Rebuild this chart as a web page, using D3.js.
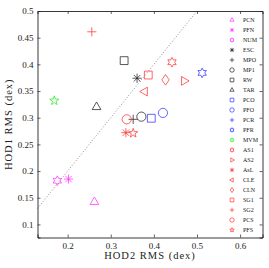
<!DOCTYPE html>
<html><head><meta charset="utf-8">
<script src="https://cdn.jsdelivr.net/npm/d3@7"></script>
<style>body{margin:0;background:#fff}svg{display:block}text{font-family:"Liberation Serif","Times New Roman",serif}</style>
</head><body><svg id="c" width="269" height="268"></svg>
<script>
const names  = ["PCN","PFN","NUM","ESC","MPO","MP1","RW","TAR","PCO","PFO","PCR","PFR","MVM","AS1","AS2","AsL","CLE","CLN","SG1","SG2","PCS","PFS"];
const hod2   = [0.262,0.202,0.176,0.361,0.352,0.371,0.331,0.267,0.394,0.421,null,0.512,0.169,0.442,0.470,0.335,0.379,0.427,0.387,0.256,0.337,0.352];
const hod1   = [0.142,0.185,0.182,0.374,0.297,0.302,0.407,0.320,0.299,0.309,null,0.384,0.332,0.404,0.369,0.272,0.349,0.371,0.380,0.461,0.297,0.271];
const colors = ["m","m","m","k","k","k","k","k","b","b","b","b","g","r","r","r","r","r","r","r","r","r"];
const shapes = ["^","*","h","*","+","o","s","^","s","o","+","h","p","h",">","*","<","d","s","+","o","p"];
const xTicks = [0.2,0.3,0.4,0.5,0.6];
const yTicks = [0.1,0.15,0.2,0.25,0.3,0.35,0.4,0.45,0.5];

const colMap = {m:"#ff33ff",k:"#222",b:"#3333ff",g:"#22ee22",r:"#ff3333"};
const svg = d3.select("#c");
const L=37.5,R=262.5,T=11,B=237.5;
const x = d3.scaleLinear().domain([0.13,0.652]).range([L,R]);
const y = d3.scaleLinear().domain([0.0755,0.5]).range([B,T]);

function marker(s, r){
  const p = d3.path();
  if(s==="o"){ p.arc(0,0,r,0,2*Math.PI); p.closePath(); }
  else if(s==="s"){ const a=r*0.85; p.rect(-a,-a,2*a,2*a); }
  else if(s==="d"){ p.moveTo(0,-r*1.15); p.lineTo(r*0.8,0); p.lineTo(0,r*1.15); p.lineTo(-r*0.8,0); p.closePath(); }
  else if(s==="^"||s===">"||s==="<"){
    const ang = s==="^"?-Math.PI/2:(s===">"?0:Math.PI);
    for(let i=0;i<3;i++){const a=ang+i*2*Math.PI/3; const px=r*1.1*Math.cos(a), py=r*1.1*Math.sin(a); i?p.lineTo(px,py):p.moveTo(px,py);}
    p.closePath();
  }
  else if(s==="+"){ p.moveTo(-r,0);p.lineTo(r,0);p.moveTo(0,-r);p.lineTo(0,r); }
  else if(s==="*"){ for(let i=0;i<4;i++){const a=i*Math.PI/4; p.moveTo(-r*Math.cos(a),-r*Math.sin(a)); p.lineTo(r*Math.cos(a),r*Math.sin(a));} }
  else if(s==="p"||s==="h"){
    const n = s==="p"?5:6, ri = s==="p"?r*0.42:r*0.58;
    for(let i=0;i<2*n;i++){const a=-Math.PI/2+i*Math.PI/n; const rr=i%2?ri:r*1.05; const px=rr*Math.cos(a),py=rr*Math.sin(a); i?p.lineTo(px,py):p.moveTo(px,py);}
    p.closePath();
  }
  return p.toString();
}

// 1:1 line
svg.append("line").attr("x1",x(0.13)).attr("y1",y(0.13)).attr("x2",x(0.5)).attr("y2",y(0.5))
  .attr("stroke","#777").attr("stroke-width",0.9).attr("stroke-dasharray","0.9,2");

// axes
const ax = svg.append("g");
ax.append("g").attr("transform",`translate(0,${B})`).call(d3.axisBottom(x).tickValues(xTicks).tickSize(-3).tickPadding(5).tickFormat(d3.format("")));
ax.append("g").attr("transform",`translate(0,${T})`).call(d3.axisTop(x).tickValues(xTicks).tickSize(-3).tickFormat(""));
ax.append("g").attr("transform",`translate(${L},0)`).call(d3.axisLeft(y).tickValues(yTicks).tickSize(-3).tickPadding(4).tickFormat(d3.format("")));
ax.append("g").attr("transform",`translate(${R},0)`).call(d3.axisRight(y).tickValues(yTicks).tickSize(-3).tickFormat(""));
ax.selectAll(".domain").attr("stroke","#222").attr("stroke-width",0.9);
ax.selectAll(".tick line").attr("stroke","#222").attr("stroke-width",0.7);
ax.selectAll(".tick text").attr("font-size",9).attr("font-family","Liberation Serif").attr("fill","#222");

svg.append("text").attr("x",(L+R)/2).attr("y",259).attr("text-anchor","middle").attr("font-size",10.5)
  .attr("letter-spacing",1).attr("fill","#222").text("HOD2 RMS (dex)");
svg.append("text").attr("transform",`translate(12,${(T+B)/2}) rotate(-90)`).attr("text-anchor","middle").attr("font-size",10.5)
  .attr("letter-spacing",1).attr("fill","#222").text("HOD1 RMS (dex)");

// points
const data = names.map((n,i)=>({n,x:hod2[i],y:hod1[i],c:colMap[colors[i]],s:shapes[i]}));
svg.append("g").selectAll("path").data(data.filter(d=>d.x!=null)).join("path")
  .attr("transform",d=>`translate(${x(d.x)},${y(d.y)})`)
  .attr("d",d=>marker(d.s,4.6)).attr("fill","none").attr("stroke",d=>d.c).attr("stroke-width",0.75);

// legend
const lg = svg.append("g");
data.forEach((d,i)=>{
  const yy = 20 + i*10;
  lg.append("path").attr("transform",`translate(232,${yy})`).attr("d",marker(d.s,2.2))
    .attr("fill","none").attr("stroke",d.c).attr("stroke-width",0.7);
  lg.append("text").attr("x",243).attr("y",yy+2).attr("font-size",6).attr("fill","#222").text(d.n);
});
</script></body></html>
